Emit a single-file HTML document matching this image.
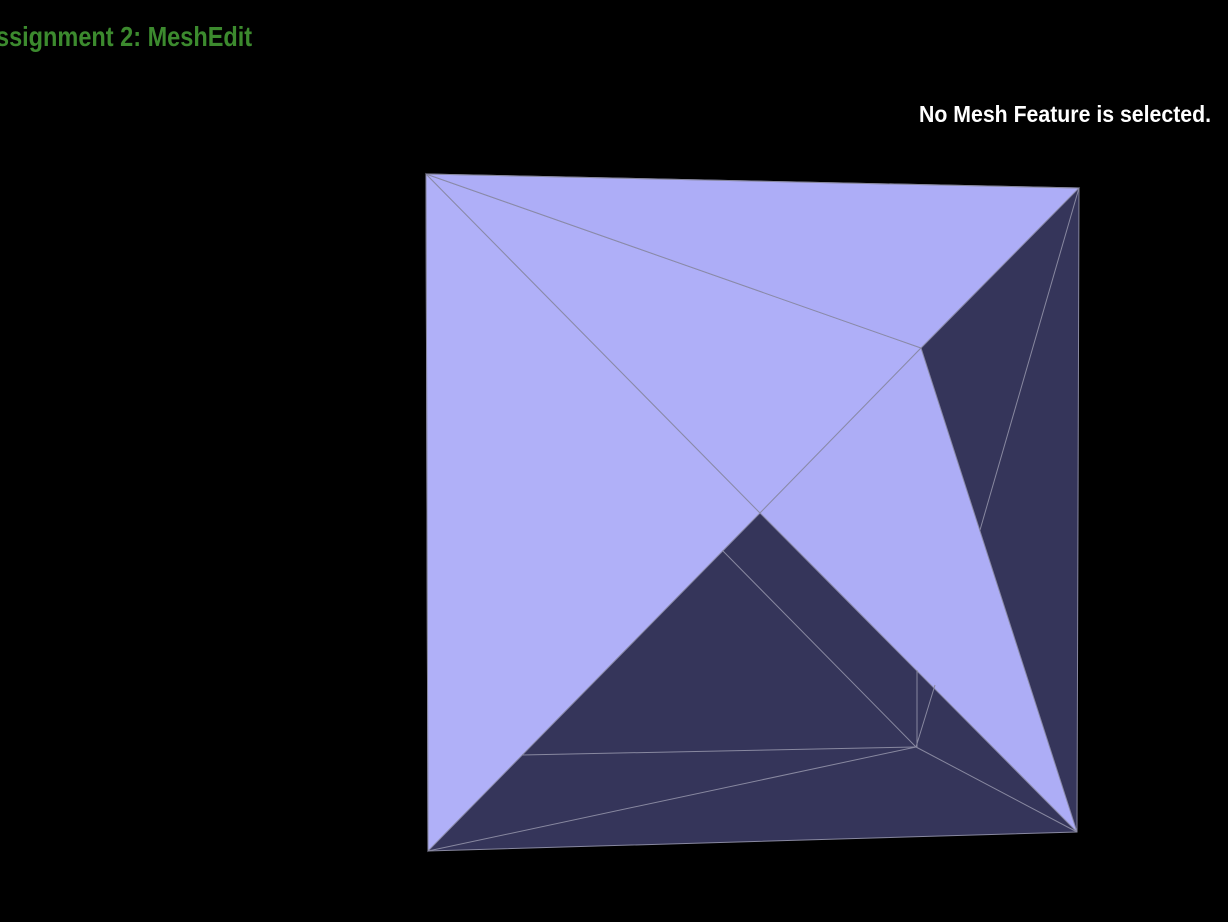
<!DOCTYPE html>
<html><head><meta charset="utf-8"><style>
html,body{margin:0;padding:0;background:#000;width:1228px;height:922px;overflow:hidden}
.t{position:absolute;font-family:"Liberation Sans",sans-serif;font-weight:bold;white-space:nowrap;transform-origin:0 0}
</style></head><body>
<div class="t" style="left:-21px;top:21px;color:#3c8a2e;font-size:28px;transform:scaleX(0.84)">Assignment 2: MeshEdit</div>
<div class="t" style="left:919px;top:101px;color:#fff;font-size:23px;transform:scaleX(0.925)">No Mesh Feature is selected.</div>
<svg width="1228" height="922" style="position:absolute;left:0;top:0">
<polygon points="426,174 1079,188 1077,832 428,851" fill="#35355a"/>
<g fill="#b0b0f8" stroke="#8a8aa8" stroke-width="1">
<polygon points="426,174 760,513 428,851"/>
<polygon points="426,174 921,348 760,513" fill="#afaff8"/>
<polygon points="426,174 1079,188 921,348" fill="#adadf7"/>
<polygon points="921,348 760,513 1077,832" fill="#adadf6"/>
</g>
<g stroke="#8888a0" stroke-width="1" fill="none">
<line x1="723" y1="551" x2="916" y2="747"/>
<line x1="522" y1="755" x2="916" y2="747"/>
<line x1="428" y1="851" x2="916" y2="747"/>
<line x1="916" y1="747" x2="1077" y2="832"/>
<line x1="1079" y1="188" x2="980" y2="530"/>
<line x1="935" y1="685" x2="916" y2="747"/>
<line x1="917" y1="670" x2="917" y2="747"/>
<polygon points="426,174 1079,188 1077,832 428,851"/>
</g>
</svg>
</body></html>
